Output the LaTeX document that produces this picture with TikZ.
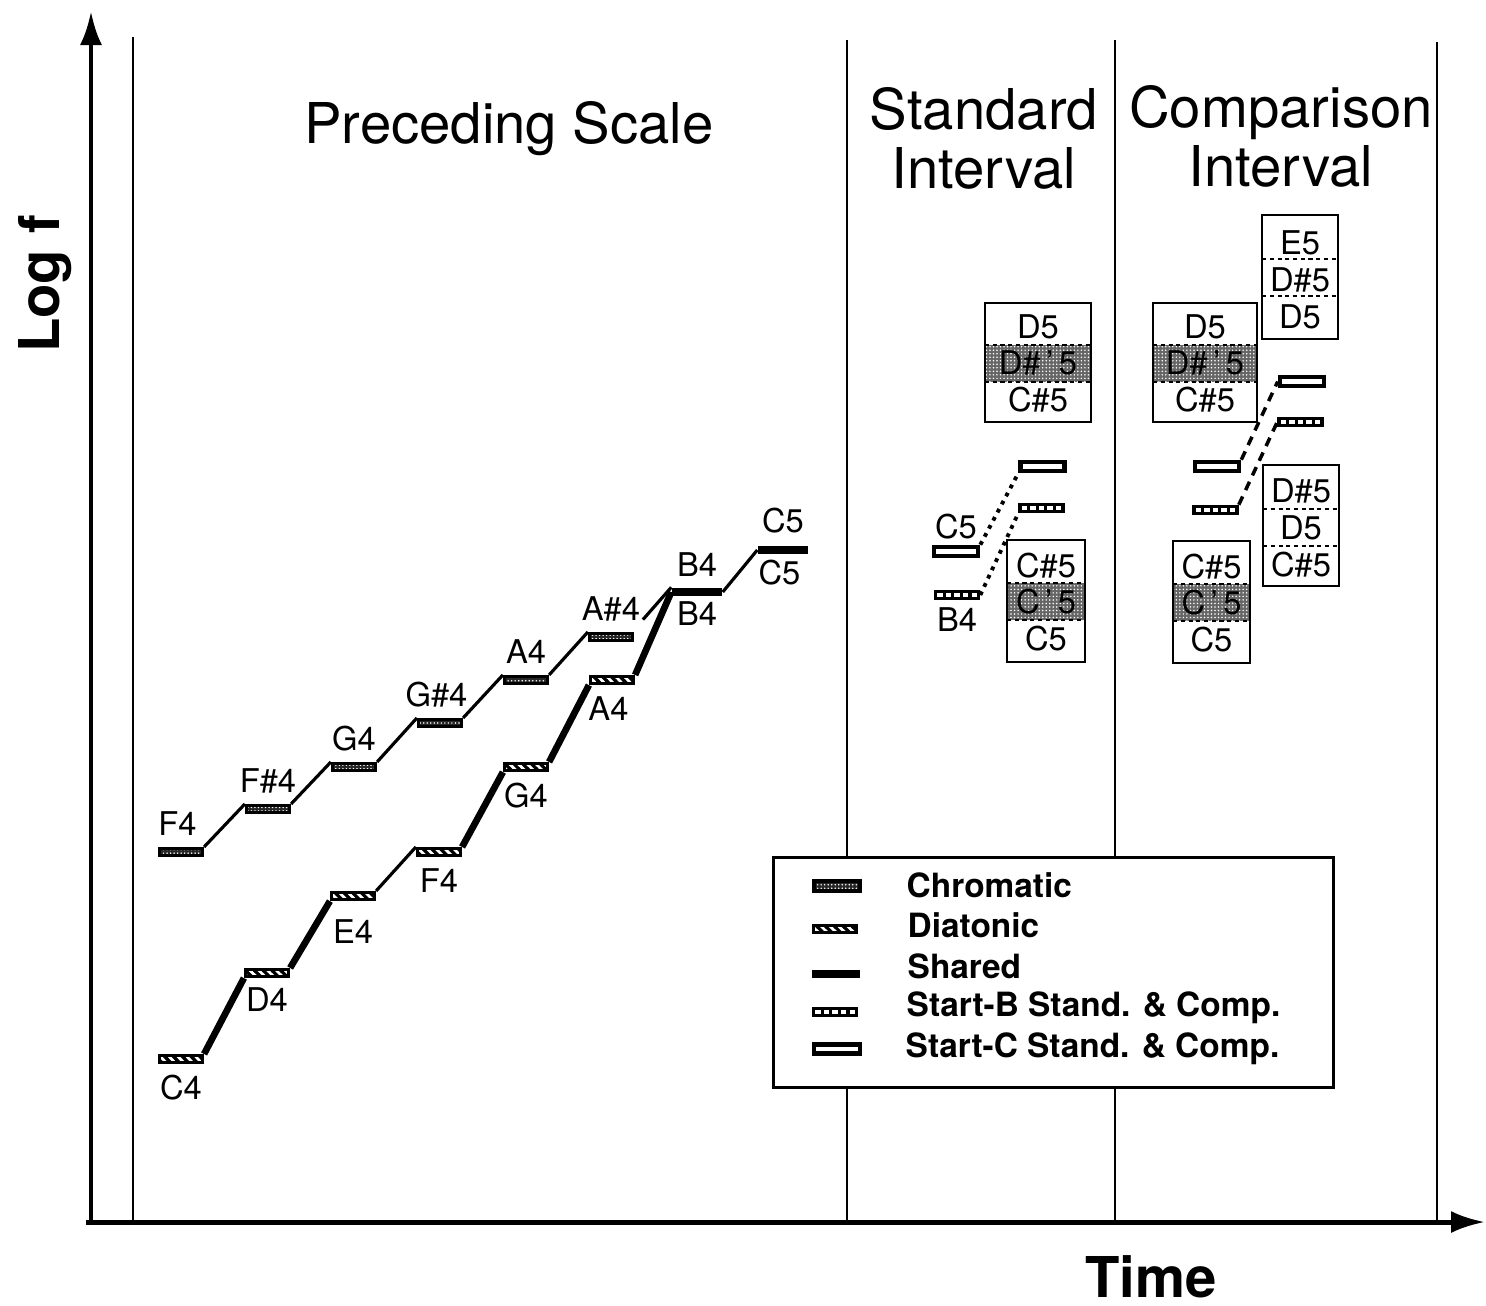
\documentclass[tikz,border=0pt]{standalone}
\usepackage{fontspec}
\setmainfont{TeX Gyre Heros}
\usepackage{tikz}
\usetikzlibrary{arrows.meta,positioning,patterns}

% fine white dots for the chromatic fill, fine hatch for the diatonic fill
\pgfdeclarepatternformonly{stipple}{\pgfqpoint{-0.3pt}{-0.3pt}}{\pgfqpoint{1.3pt}{1.3pt}}{\pgfqpoint{1pt}{1pt}}
{\pgfpathcircle{\pgfqpoint{0.5pt}{0.5pt}}{0.24pt}\pgfusepath{fill}}
\pgfdeclarepatternformonly{hatch}{\pgfqpoint{-0.5pt}{-0.5pt}}{\pgfqpoint{3pt}{3pt}}{\pgfqpoint{2.5pt}{2.5pt}}
{\pgfsetlinewidth{0.9pt}\pgfpathmoveto{\pgfqpoint{-0.2pt}{2.7pt}}\pgfpathlineto{\pgfqpoint{2.7pt}{-0.2pt}}\pgfusepath{stroke}}

\tikzset{
    notebar/.style={rectangle, draw=black, line width=0.9pt, minimum width=0.43cm, minimum height=0.07cm, inner sep=0pt},
    chromnote/.style={notebar, preaction={fill=black!85}, pattern=stipple, pattern color=white},
    diatnote/.style={notebar, pattern=hatch},
    sharednote/.style={rectangle, fill=black, minimum width=0.5cm, minimum height=0.08cm, inner sep=0pt},
    startbnote/.style={notebar, line width=1pt, fill=white, path picture={
        \foreach \k in {1,...,4}{\draw[line width=0.9pt] ([xshift=\k*0.086cm]path picture bounding box.south west) -- ([xshift=\k*0.086cm]path picture bounding box.north west);}}},
    startcnote/.style={rectangle, draw=black, line width=1.3pt, fill=white, minimum width=0.44cm, minimum height=0.09cm, inner sep=0pt},
    notelabel/.style={inner sep=0pt, font=\fontsize{9.3}{10}\selectfont},
    legendtext/.style={inner sep=0pt, anchor=base west, font=\bfseries\fontsize{9.5}{11}\selectfont},
    titletext/.style={inner sep=0pt, align=center, font=\fontsize{16}{16.8}\selectfont},
    axislabel/.style={inner sep=0pt, font=\bfseries\fontsize{16}{17}\selectfont},
    halfstep/.style={line width=0.9pt},
    wholestep/.style={line width=1.9pt},
    divider/.style={line width=0.6pt},
    myaxis/.style={-{Latex[length=0.34cm,width=0.22cm]}, line width=1.4pt},
    intbox/.style={rectangle, draw=black, line width=0.7pt, inner sep=0pt},
    band/.style={preaction={fill=black!60}, pattern=stipple, pattern color=white},
    bandedge/.style={dash pattern=on 1.2pt off 1pt, line width=0.6pt},
    stdlink/.style={line width=1.1pt, dash pattern=on 1.1pt off 1.5pt},
    cmplink/.style={line width=1pt, dash pattern=on 2.6pt off 2pt},
}

\begin{document}
\begin{tikzpicture}[x=0.01cm, y=-0.01cm]
\useasboundingbox (0,0) rectangle (1486,1305);

% axes
\coordinate (origin) at (91,1222);
\coordinate (ytip) at (91,11);
\coordinate (xstart) at (86,1222);
\coordinate (xtip) at (1485,1222);
\draw[myaxis] (origin) -- (ytip);
\draw[myaxis] (xstart) -- (xtip);
\node[axislabel, rotate=90] (logf) at (45,284) {Log f};
\node[axislabel] (time) at (1151,1277) {Time};

% section dividers
\draw[divider] (133,37) -- (133,1222);
\draw[divider] (847,40) -- (847,1222);
\draw[divider] (1115,40) -- (1115,1222);
\draw[divider] (1437,42) -- (1437,1222);

\node[titletext] (prectitle) at (509,129) {Preceding Scale};
\node[titletext] (stdtitle) at (984,138) {Standard\\Interval};
\node[titletext] (cmptitle) at (1281,136) {Comparison\\Interval};

% chromatic run
\node[chromnote] (chF4) at (181,852) {};
\node[chromnote] (chFs4) at (268,809) {};
\node[chromnote] (chG4) at (354,767) {};
\node[chromnote] (chGs4) at (440,723) {};
\node[chromnote] (chA4) at (526,680) {};
\node[chromnote] (chAs4) at (611,637) {};
\node[notelabel, above=3pt of chF4, xshift=-1pt] (chF4lab) {F4};
\node[notelabel, above=3pt of chFs4] (chFs4lab) {F\#4};
\node[notelabel, above=3pt of chG4] (chG4lab) {G4};
\node[notelabel, above=3pt of chGs4, xshift=-1pt] (chGs4lab) {G\#4};
\node[notelabel, above=3pt of chA4] (chA4lab) {A4};
\node[notelabel, above=3pt of chAs4] (chAs4lab) {A\#4};

% diatonic run
\node[diatnote] (diC4) at (181,1059) {};
\node[diatnote] (diD4) at (267,973) {};
\node[diatnote] (diE4) at (353,896) {};
\node[diatnote] (diF4) at (439,852) {};
\node[diatnote] (diG4) at (526,767) {};
\node[diatnote] (diA4) at (612,680) {};
\node[notelabel, below=3pt of diC4] (diC4lab) {C4};
\node[notelabel, below=2.5pt of diD4] (diD4lab) {D4};
\node[notelabel, below=5pt of diE4] (diE4lab) {E4};
\node[notelabel, below=3pt of diF4] (diF4lab) {F4};
\node[notelabel, below=3pt of diG4] (diG4lab) {G4};
\node[notelabel, below=3pt of diA4, xshift=-1pt] (diA4lab) {A4};

% notes both runs share
\node[sharednote] (shB4) at (697,592) {};
\node[sharednote] (shC5) at (783,550) {};
\node[notelabel, above=3pt of shB4] (shB4up) {B4};
\node[notelabel, below=1.2pt of shB4] (shB4dn) {B4};
\node[notelabel, above=3.4pt of shC5] (shC5up) {C5};
\node[notelabel, below=1.2pt of shC5, xshift=-1pt] (shC5dn) {C5};

\draw[halfstep] (chF4.north east) -- (chFs4.north west);
\draw[halfstep] (chFs4.north east) -- (chG4.north west);
\draw[halfstep] (chG4.north east) -- (chGs4.north west);
\draw[halfstep] (chGs4.north east) -- (chA4.north west);
\draw[halfstep] (chA4.north east) -- (chAs4.north west);
\draw[halfstep] ([xshift=2.5pt,yshift=3.5pt]chAs4.north east) -- (shB4.north west);
\draw[halfstep] (shB4.east) -- (shC5.west);

\draw[wholestep] (diC4.north east) -- (diD4.south west);
\draw[wholestep] (diD4.north east) -- (diE4.south west);
\draw[halfstep] (diE4.north east) -- (diF4.north west);
\draw[wholestep] (diF4.north east) -- (diG4.south west);
\draw[wholestep] (diG4.north east) -- (diA4.south west);
\draw[wholestep] (diA4.north east) -- (shB4.west);

% standard interval
\path[band] (985,345) rectangle (1091,382);
\draw[bandedge] (985,345) -- (1091,345);
\draw[bandedge] (985,382) -- (1091,382);
\node[intbox, minimum width=1.06cm, minimum height=1.19cm] (stdhigh) at (1038,362.5) {};
\node[notelabel] (stdhighA) at (1038,327) {D5};
\node[notelabel] (stdhighB) at (1038,363) {D\#\,'\,5};
\node[notelabel] (stdhighC) at (1038,400) {C\#5};

\path[band] (1007,583) rectangle (1085,620);
\draw[bandedge] (1007,583) -- (1085,583);
\draw[bandedge] (1007,620) -- (1085,620);
\node[intbox, minimum width=0.78cm, minimum height=1.22cm] (stdlow) at (1046,601) {};
\node[notelabel] (stdlowA) at (1046,566) {C\#5};
\node[notelabel] (stdlowB) at (1046,602) {C\,'\,5};
\node[notelabel] (stdlowC) at (1046,639) {C5};

\node[startcnote] (sC1) at (956,551.5) {};
\node[startbnote] (sB1) at (957,595) {};
\node[startcnote] (sC2) at (1042.5,466.5) {};
\node[startbnote] (sB2) at (1041.5,508) {};
\node[notelabel, above=1.5pt of sC1] (sC1lab) {C5};
\node[notelabel, below=1.8pt of sB1] (sB1lab) {B4};
\draw[stdlink] (sC1.north east) -- (sC2.south west);
\draw[stdlink] (sB1.east) -- (sB2.south west);

% comparison interval
\path[band] (1153,345) rectangle (1257,382);
\draw[bandedge] (1153,345) -- (1257,345);
\draw[bandedge] (1153,382) -- (1257,382);
\node[intbox, minimum width=1.04cm, minimum height=1.19cm] (cmphigh) at (1205,362.5) {};
\node[notelabel] (cmphighA) at (1205,327) {D5};
\node[notelabel] (cmphighB) at (1205,363) {D\#\,'\,5};
\node[notelabel] (cmphighC) at (1205,400) {C\#5};

\path[band] (1173,584) rectangle (1250,621);
\draw[bandedge] (1173,584) -- (1250,584);
\draw[bandedge] (1173,621) -- (1250,621);
\node[intbox, minimum width=0.77cm, minimum height=1.22cm] (cmplow) at (1211.5,602) {};
\node[notelabel] (cmplowA) at (1211.5,567) {C\#5};
\node[notelabel] (cmplowB) at (1211.5,603) {C\,'\,5};
\node[notelabel] (cmplowC) at (1211.5,640) {C5};

\node[intbox, minimum width=0.76cm, minimum height=1.24cm] (cmptop) at (1300,277) {};
\draw[bandedge] (1262,259) -- (1338,259);
\draw[bandedge] (1262,296) -- (1338,296);
\node[notelabel] (cmptopA) at (1300,243) {E5};
\node[notelabel] (cmptopB) at (1300,280) {D\#5};
\node[notelabel] (cmptopC) at (1300,317) {D5};

\node[intbox, minimum width=0.76cm, minimum height=1.21cm] (cmpmid) at (1301,525.5) {};
\draw[bandedge] (1263,509) -- (1339,509);
\draw[bandedge] (1263,546) -- (1339,546);
\node[notelabel] (cmpmidA) at (1301,491) {D\#5};
\node[notelabel] (cmpmidB) at (1301,528) {D5};
\node[notelabel] (cmpmidC) at (1301,565) {C\#5};

\node[startcnote] (cC1) at (1217,466.5) {};
\node[startbnote] (cB1) at (1215.5,510) {};
\node[startcnote] (cC2) at (1302,381.5) {};
\node[startbnote] (cB2) at (1300.5,422) {};
\draw[cmplink] (cC1.north east) -- (cC2.west);
\draw[cmplink] (cB1.north east) -- (cB2.west);

% key
\node[rectangle, draw=black, line width=0.8pt, fill=white, minimum width=5.6cm, minimum height=2.3cm] (legend) at (1053.5,972.5) {};
\node[chromnote, minimum width=0.46cm, minimum height=0.1cm] (keychrom) at (837,886) {};
\node[diatnote] (keydiat) at (835,929) {};
\node[sharednote, minimum width=0.48cm, minimum height=0.08cm] (keyshared) at (836,974) {};
\node[startbnote] (keystartb) at (835,1012) {};
\node[startcnote, minimum width=0.46cm] (keystartc) at (837,1049) {};
\node[legendtext] (keychromlab) at (906,897) {Chromatic};
\node[legendtext] (keydiatlab) at (907,937) {Diatonic};
\node[legendtext] (keysharedlab) at (907,978) {Shared};
\node[legendtext] (keystartblab) at (906,1016) {Start-B Stand. \& Comp.};
\node[legendtext] (keystartclab) at (905,1057) {Start-C Stand. \& Comp.};

\end{tikzpicture}
\end{document}
